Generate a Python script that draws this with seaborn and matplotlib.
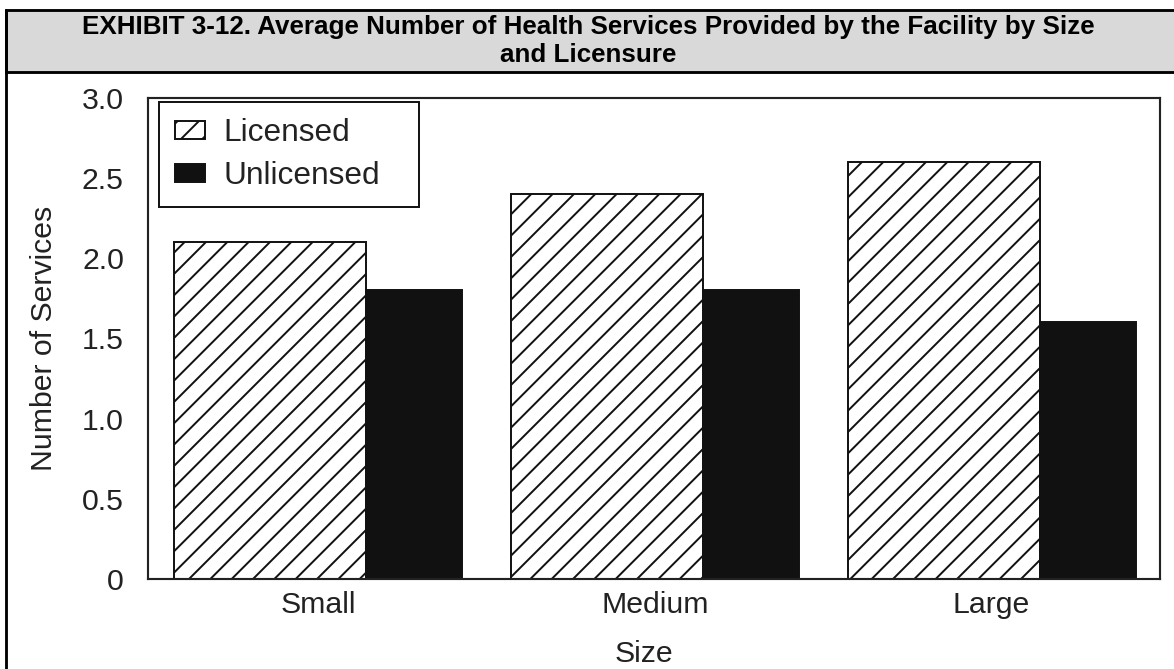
import matplotlib
matplotlib.use("Agg")
import matplotlib.pyplot as plt
from matplotlib.patches import Rectangle, Patch
from matplotlib.lines import Line2D
import seaborn as sns
import pandas as pd

# ---- data ----
sizes = ["Small", "Medium", "Large"]
licensure = ["Licensed", "Unlicensed"]
licensed_values = [2.1, 2.4, 2.6]
unlicensed_values = [1.8, 1.8, 1.6]
y_ticks = [0, 0.5, 1.0, 1.5, 2.0, 2.5, 3.0]
y_tick_labels = ["0", "0.5", "1.0", "1.5", "2.0", "2.5", "3.0"]
title_text = ("EXHIBIT 3-12. Average Number of Health Services Provided by the Facility by Size\n"
              "and Licensure")
x_label = "Size"
y_label = "Number of Services"

df = pd.DataFrame({
    "Size": sizes * 2,
    "Licensure": [licensure[0]] * len(sizes) + [licensure[1]] * len(sizes),
    "Services": licensed_values + unlicensed_values,
})

# ---- figure ----
DPI = 128
W, H = 1174, 669
sns.set_theme(style="white")
plt.rcParams["font.family"] = ["Liberation Sans", "DejaVu Sans"]
plt.rcParams["hatch.linewidth"] = 1.1
plt.rcParams["hatch.color"] = "#111111"

DARK = "#111111"
fig = plt.figure(figsize=(W / DPI, H / DPI), dpi=DPI)
fig.patch.set_facecolor("white")

# header band + borders
fig.patches.append(Rectangle((6 / W, 1 - 72 / H), (W + 20 - 6) / W, (72 - 10) / H,
                             transform=fig.transFigure, facecolor="#d9d9d9",
                             edgecolor="black", linewidth=1.6, zorder=0))
fig.lines.append(Line2D([6 / W, 6 / W], [0, 1 - 10 / H], transform=fig.transFigure,
                        color="black", linewidth=1.6))
fig.text(588 / W, 1 - 41 / H, title_text, ha="center", va="center",
         fontsize=14.6, fontweight="bold", linespacing=1.2, color="black")

ax = fig.add_axes([148 / W, 1 - 579 / H, (1160 - 148) / W, (579 - 98) / H])
sns.barplot(data=df, x="Size", y="Services", hue="Licensure", order=sizes,
            hue_order=licensure, palette={"Licensed": "white", "Unlicensed": DARK},
            width=0.855, edgecolor=DARK, linewidth=1.1, errorbar=None,
            ax=ax, legend=False, saturation=1)

# unequal bar widths like the reference (licensed bar is wider)
half = 0.4275
lic_w = 0.57
for bar in ax.containers[0]:
    c = bar.get_x() + bar.get_width()
    bar.set_x(c - half)
    bar.set_width(lic_w)
    bar.set_hatch("//")
for bar in ax.containers[1]:
    c = bar.get_x()
    bar.set_x(c - half + lic_w)
    bar.set_width(2 * half - lic_w)

ax.set_xlim(-0.505, 2.5)
ax.set_ylim(0, 3.0)
ax.set_yticks(y_ticks)
ax.set_yticklabels(y_tick_labels)
ax.tick_params(axis="y", length=0, pad=13.5, labelsize=17, labelcolor="#222222")
ax.tick_params(axis="x", length=0, pad=6.8, labelsize=17, labelcolor="#222222")
for s in ax.spines.values():
    s.set_visible(True)
    s.set_color("#222222")
    s.set_linewidth(1.2)

ax.set_xlabel(x_label, fontsize=17, color="#222222")
ax.set_ylabel(y_label, fontsize=17, color="#222222")
ax.xaxis.set_label_coords((644 - 148) / 1012, (579 - 640) / 481)
ax.yaxis.set_label_coords((58 - 148) / 1012, 0.5)

handles = [Patch(facecolor="white", edgecolor=DARK, hatch="//", linewidth=1.1, label=licensure[0]),
           Patch(facecolor=DARK, edgecolor=DARK, linewidth=1.1, label=licensure[1])]
leg = ax.legend(handles=handles, loc="upper left",
                bbox_to_anchor=(159 / W, 1 - 109 / H, (419 - 159) / W, 0.01),
                bbox_transform=fig.transFigure, mode="expand", borderaxespad=0,
                fontsize=17.8, handlelength=0.95, handleheight=0.47,
                handletextpad=0.6, labelspacing=0.42, borderpad=0.5,
                fancybox=False, framealpha=1, edgecolor=DARK)
leg.get_frame().set_linewidth(1.1)
for t in leg.get_texts():
    t.set_color("#222222")

fig.savefig("out.png", dpi=DPI)
